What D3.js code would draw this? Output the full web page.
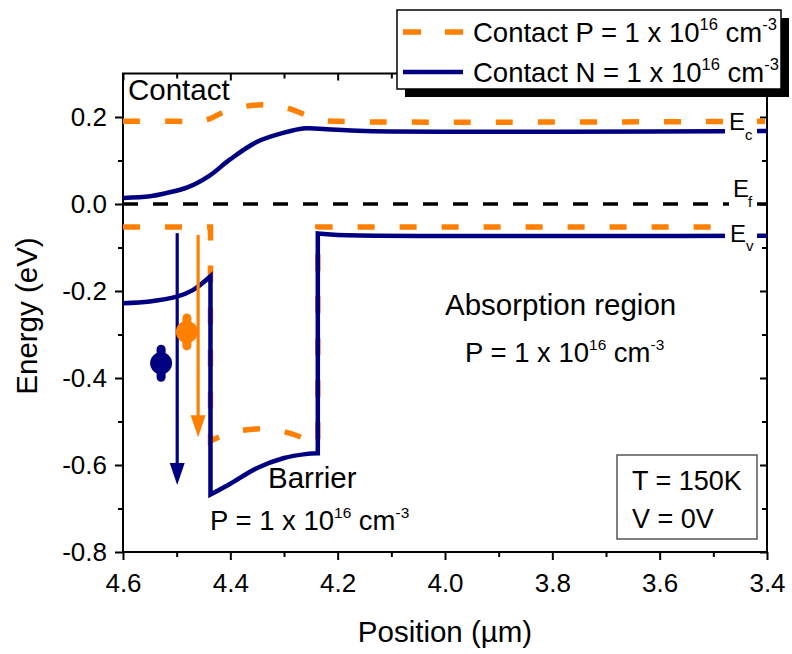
<!DOCTYPE html>
<html>
<head>
<meta charset="utf-8">
<script src="https://cdn.jsdelivr.net/npm/d3@7"></script>
<style>
  body { margin: 0; background: #fff; }
  svg text { font-family: "Liberation Sans", Arial, Helvetica, sans-serif; fill: #000; }
</style>
</head>
<body>
<svg id="chart" width="792" height="654"></svg>
<script>
// ---- tick values ----
const xTicksMajor = [4.6, 4.4, 4.2, 4.0, 3.8, 3.6, 3.4];
const xTicksMinor = [4.5, 4.3, 4.1, 3.9, 3.7, 3.5];
const yTicksMajor = [-0.8, -0.6, -0.4, -0.2, 0.0, 0.2];
const yTicksMinor = [-0.7, -0.5, -0.3, -0.1, 0.1];

// ---- band edges, [position (µm), energy (eV)] ----
// Contact P = 1e16 cm^-3
const pEc = [[4.6, 0.19], [4.5, 0.19], [4.46, 0.19], [4.44, 0.195], [4.42, 0.207], [4.40, 0.217],
             [4.37, 0.225], [4.34, 0.228], [4.31, 0.225], [4.29, 0.219], [4.26, 0.205],
             [4.23, 0.193], [4.20, 0.19], [3.4, 0.19]];
const pEvContact  = [[4.6, -0.053], [4.437, -0.053]];
const pEvBarrier  = [[4.437, -0.545], [4.42, -0.535], [4.39, -0.523], [4.35, -0.517],
                     [4.31, -0.521], [4.27, -0.535], [4.237, -0.555]];
const pEvAbsorber = [[4.237, -0.053], [3.4, -0.053]];

// Contact N = 1e16 cm^-3
const nEc = [[4.6, 0.014], [4.55, 0.018], [4.52, 0.025], [4.48, 0.038], [4.44, 0.064],
             [4.40, 0.103], [4.35, 0.143], [4.30, 0.164], [4.26, 0.174], [4.22, 0.172],
             [4.15, 0.168], [3.4, 0.168]];
const nEvContact  = [[4.6, -0.228], [4.55, -0.224], [4.5, -0.213], [4.47, -0.198], [4.437, -0.166]];
const nEvBarrier  = [[4.437, -0.668], [4.40, -0.643], [4.35, -0.607], [4.30, -0.584],
                     [4.26, -0.575], [4.237, -0.573]];
const nEvAbsorber = [[4.237, -0.068], [4.2, -0.071], [3.4, -0.073]];

// Fermi level
const fermi = [[4.6, 0.0], [3.4, 0.0]];

// transitions: [position, start energy, end energy] (N contact, P contact)
const transitions = [[4.499, -0.067, -0.646], [4.46, -0.071, -0.536]];
// carriers: [position, energy] (N contact, P contact)
const carriers = [[4.529, -0.366], [4.481, -0.294]];

// ---- setup ----
const NAVY = "#000080", ORANGE = "#ff8000";
const svg = d3.select("#chart");
const x = d3.scaleLinear().domain([4.6, 3.4]).range([123, 767]);
const y = d3.scaleLinear().domain([-0.8, 0.3]).range([552, 73.5]);

const FONT = '"Liberation Sans", Arial, Helvetica, sans-serif';
const fmt = d => d3.format(".1f")(d).replace("\u2212", "-");

function styleAxis(g, size) {
  g.attr("font-family", FONT).attr("font-size", size);
  g.select(".domain").remove();
  g.selectAll(".tick line").attr("stroke", "#000").attr("stroke-width", 2);
  g.selectAll(".tick text").attr("fill", "#000");
}

// bottom axis (outer ticks) with labels
svg.append("g").attr("transform", `translate(0,${y(-0.8)})`)
  .call(d3.axisBottom(x).tickValues(xTicksMajor).tickFormat(fmt).tickSize(8).tickPadding(14))
  .call(g => styleAxis(g, 26));
svg.append("g").attr("transform", `translate(0,${y(-0.8)})`)
  .call(d3.axisBottom(x).tickValues(xTicksMinor).tickFormat("").tickSize(5))
  .call(g => styleAxis(g, 26));
// left axis (outer ticks) with labels
svg.append("g").attr("transform", `translate(${x(4.6)},0)`)
  .call(d3.axisLeft(y).tickValues(yTicksMajor).tickFormat(fmt).tickSize(8).tickPadding(8))
  .call(g => styleAxis(g, 26));
svg.append("g").attr("transform", `translate(${x(4.6)},0)`)
  .call(d3.axisLeft(y).tickValues(yTicksMinor).tickFormat("").tickSize(5))
  .call(g => styleAxis(g, 26));
// top axis (inner ticks)
svg.append("g").attr("transform", `translate(0,${y(0.3)})`)
  .call(d3.axisBottom(x).tickValues(xTicksMajor).tickFormat("").tickSize(7))
  .call(g => styleAxis(g, 26));
svg.append("g").attr("transform", `translate(0,${y(0.3)})`)
  .call(d3.axisBottom(x).tickValues(xTicksMinor).tickFormat("").tickSize(5))
  .call(g => styleAxis(g, 26));
// right axis (inner ticks)
svg.append("g").attr("transform", `translate(${x(3.4)},0)`)
  .call(d3.axisLeft(y).tickValues(yTicksMajor).tickFormat("").tickSize(7))
  .call(g => styleAxis(g, 26));
svg.append("g").attr("transform", `translate(${x(3.4)},0)`)
  .call(d3.axisLeft(y).tickValues(yTicksMinor).tickFormat("").tickSize(5))
  .call(g => styleAxis(g, 26));

// frame
svg.append("rect")
  .attr("x", x(4.6)).attr("y", y(0.3))
  .attr("width", x(3.4) - x(4.6)).attr("height", y(-0.8) - y(0.3))
  .attr("fill", "none").attr("stroke", "#000").attr("stroke-width", 2);

// axis titles
svg.append("text").attr("x", (x(4.6) + x(3.4)) / 2).attr("y", 642)
  .attr("text-anchor", "middle").attr("font-size", 29.5).text("Position (µm)");
svg.append("text").attr("transform", `translate(37,${316}) rotate(-90)`)
  .attr("text-anchor", "middle").attr("font-size", 29.5).text("Energy (eV)");

// ---- band lines ----
const line = d3.line().x(d => x(d[0])).y(d => y(d[1])).curve(d3.curveCatmullRom.alpha(0.5));
// joins pieces into one path, with straight (vertical) steps between them
function joined(pieces) {
  return pieces.map((p, i) => { const d = line(p); return i ? "L" + d.slice(1) : d; }).join("");
}

const plot = svg.append("g");
plot.append("path").attr("d", line(fermi))
  .attr("fill", "none").attr("stroke", "#000").attr("stroke-width", 3.5).attr("stroke-dasharray", "15,15");

plot.append("path").attr("d", line(pEc))
  .attr("fill", "none").attr("stroke", ORANGE).attr("stroke-width", 5.5).attr("stroke-dasharray", "17,25");
plot.append("path").attr("d", joined([pEvContact, pEvBarrier, pEvAbsorber]))
  .attr("fill", "none").attr("stroke", ORANGE).attr("stroke-width", 5.5).attr("stroke-dasharray", "17,25");

plot.append("path").attr("d", line(nEc))
  .attr("fill", "none").attr("stroke", NAVY).attr("stroke-width", 4.5);
plot.append("path").attr("d", joined([nEvContact, nEvBarrier, nEvAbsorber]))
  .attr("fill", "none").attr("stroke", NAVY).attr("stroke-width", 4.5).attr("stroke-linejoin", "miter");

// ---- band labels (white backing over the lines) ----
function bandLabel(x0, x1, yTop, yBot, ex, ey, sub, sx, sy) {
  const g = svg.append("g");
  g.append("rect").attr("x", x0).attr("y", yTop).attr("width", x1 - x0).attr("height", yBot - yTop).attr("fill", "#fff");
  g.append("text").attr("x", ex).attr("y", ey).attr("font-size", 24).text("E");
  g.append("text").attr("x", sx).attr("y", sy).attr("font-size", 15).text(sub);
}
bandLabel(725, 757, 109, 143, 729, 130, "c", 745, 140);
bandLabel(729, 757, 176, 209, 733, 197, "f", 748, 207);
bandLabel(725, 757, 220, 254, 730, 242, "v", 746, 251);

// ---- transition arrows ----
const arrowColors = [NAVY, ORANGE];
transitions.forEach((t, i) => {
  const px = x(t[0]), y0 = y(t[1]), y1 = y(t[2]);
  const headLen = 22, headHalf = 7.5;
  svg.append("line").attr("x1", px).attr("x2", px).attr("y1", y0).attr("y2", y1 - headLen + 2)
    .attr("stroke", arrowColors[i]).attr("stroke-width", 3.2);
  svg.append("path")
    .attr("d", `M${px - headHalf},${y1 - headLen}L${px + headHalf},${y1 - headLen}L${px},${y1}Z`)
    .attr("fill", arrowColors[i]);
});

// ---- carriers ----
carriers.forEach((c, i) => {
  const cx = x(c[0]), cy = y(c[1]);
  svg.append("line").attr("x1", cx).attr("x2", cx).attr("y1", cy - 14).attr("y2", cy + 14)
    .attr("stroke", arrowColors[i]).attr("stroke-width", 9).attr("stroke-linecap", "round");
  svg.append("circle").attr("cx", cx).attr("cy", cy).attr("r", 11).attr("fill", arrowColors[i]);
});

// ---- annotations ----
function dopingText(x0, y0, size, prefix, supScale) {
  const t = svg.append("text").attr("x", x0).attr("y", y0).attr("font-size", size);
  const sup = size * (supScale || 0.56), raise = size * 0.45;
  t.append("tspan").text(prefix + "10");
  t.append("tspan").attr("font-size", sup).attr("dy", -raise).text("16");
  t.append("tspan").attr("dy", raise).text(" cm");
  t.append("tspan").attr("font-size", sup).attr("dy", -raise).text("-3");
  return t;
}

svg.append("text").attr("x", 128).attr("y", 100).attr("font-size", 29.5).text("Contact");
svg.append("text").attr("x", 445).attr("y", 315).attr("font-size", 29.5).text("Absorption region");
dopingText(465, 362, 27.5, "P = 1 x ");
svg.append("text").attr("x", 268).attr("y", 488).attr("font-size", 29.5).text("Barrier");
dopingText(210, 530, 27.5, "P = 1 x ");

// conditions box
svg.append("rect").attr("x", 617).attr("y", 455).attr("width", 140).attr("height", 84)
  .attr("fill", "#fff").attr("stroke", "#555").attr("stroke-width", 1.5);
svg.append("text").attr("x", 632).attr("y", 490).attr("font-size", 27).text("T = 150K");
svg.append("text").attr("x", 632).attr("y", 528).attr("font-size", 27).text("V = 0V");

// ---- legend ----
const leg = svg.append("g");
leg.append("rect").attr("x", 405).attr("y", 18).attr("width", 384).attr("height", 79).attr("fill", "#000");
leg.append("rect").attr("x", 397).attr("y", 10).attr("width", 384).attr("height", 79)
  .attr("fill", "#fff").attr("stroke", "#000").attr("stroke-width", 1.5);
leg.append("line").attr("x1", 403).attr("x2", 463).attr("y1", 32).attr("y2", 32)
  .attr("stroke", ORANGE).attr("stroke-width", 5.5).attr("stroke-dasharray", "18,24");
leg.append("line").attr("x1", 403).attr("x2", 463).attr("y1", 72).attr("y2", 72)
  .attr("stroke", NAVY).attr("stroke-width", 4.5);
dopingText(473, 42, 27.5, "Contact P = 1 x ", 0.6);
dopingText(473, 82, 27.5, "Contact N = 1 x ", 0.6);
</script>
</body>
</html>
